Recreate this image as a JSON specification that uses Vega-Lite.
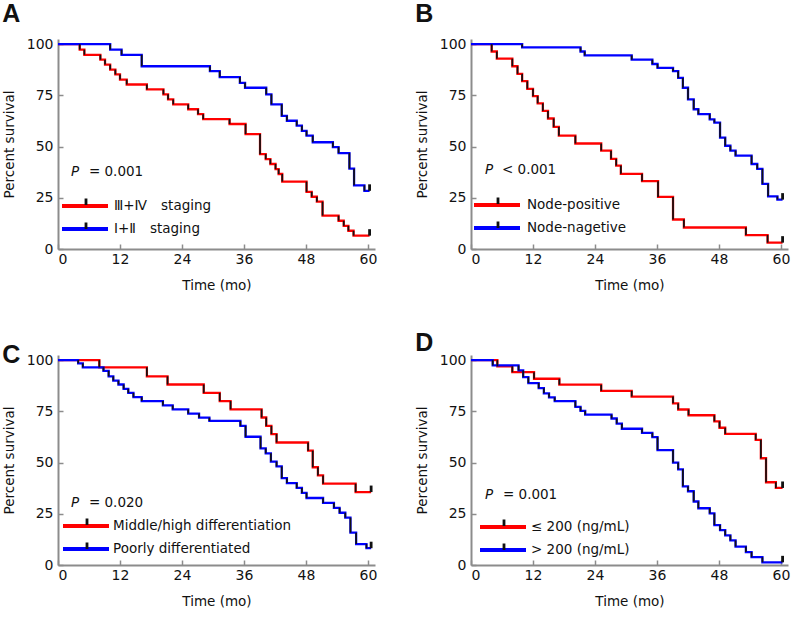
{
  "$schema": "https://vega.github.io/schema/vega-lite/v6.json",
  "padding": {"left": 2, "top": 2, "right": 2, "bottom": 2},
  "background": "white",
  "config": {
    "view": {"stroke": null},
    "axis": {"domainColor": "#8c8c8c", "domainWidth": 2, "tickColor": "#8c8c8c", "tickWidth": 1.5, "tickSize": -5, "grid": false,
      "labelFont": "DejaVu Sans", "labelFontSize": 14, "labelColor": "#111", "titleFont": "DejaVu Sans", "titleFontSize": 13.5, "titleFontWeight": "normal", "titleColor": "#111"},
    "axisX": {"labelPadding": 8, "titlePadding": 12},
    "axisY": {"labelPadding": 10, "titlePadding": 10},
    "title": {"anchor": "start", "frame": "bounds", "font": "Liberation Sans Narrow, Liberation Sans", "fontSize": 25, "fontWeight": "bold", "color": "#111"},
    "legend": {"orient": "none", "padding": 0, "labelFont": "DejaVu Sans", "labelFontSize": 13.5, "labelColor": "#111", "rowPadding": 3, "labelLimit": 400}
  },
  "datasets": {
    "A": [
      {"g":"Ⅲ+Ⅳ　staging","t":0,"s":100},{"g":"Ⅲ+Ⅳ　staging","t":4.2,"s":97.3},{"g":"Ⅲ+Ⅳ　staging","t":5.1,"s":94.8},{"g":"Ⅲ+Ⅳ　staging","t":8.2,"s":92.4},{"g":"Ⅲ+Ⅳ　staging","t":9.1,"s":90},{"g":"Ⅲ+Ⅳ　staging","t":10.1,"s":87.6},{"g":"Ⅲ+Ⅳ　staging","t":11.1,"s":85.2},{"g":"Ⅲ+Ⅳ　staging","t":12.0,"s":82.7},{"g":"Ⅲ+Ⅳ　staging","t":13.3,"s":80.3},{"g":"Ⅲ+Ⅳ　staging","t":17.2,"s":77.9},{"g":"Ⅲ+Ⅳ　staging","t":20.4,"s":75.5},{"g":"Ⅲ+Ⅳ　staging","t":21.3,"s":73},{"g":"Ⅲ+Ⅳ　staging","t":22.3,"s":70.6},{"g":"Ⅲ+Ⅳ　staging","t":25.2,"s":68.2},{"g":"Ⅲ+Ⅳ　staging","t":27.1,"s":65.8},{"g":"Ⅲ+Ⅳ　staging","t":28.1,"s":63.4},{"g":"Ⅲ+Ⅳ　staging","t":33.2,"s":61},{"g":"Ⅲ+Ⅳ　staging","t":36.3,"s":56.1},{"g":"Ⅲ+Ⅳ　staging","t":39.1,"s":46.3},{"g":"Ⅲ+Ⅳ　staging","t":40.2,"s":43.9},{"g":"Ⅲ+Ⅳ　staging","t":41.1,"s":41.5},{"g":"Ⅲ+Ⅳ　staging","t":42.1,"s":39},{"g":"Ⅲ+Ⅳ　staging","t":42.7,"s":36.6},{"g":"Ⅲ+Ⅳ　staging","t":43.4,"s":32.9},{"g":"Ⅲ+Ⅳ　staging","t":48.1,"s":27.9},{"g":"Ⅲ+Ⅳ　staging","t":49.1,"s":25.5},{"g":"Ⅲ+Ⅳ　staging","t":50.1,"s":23.1},{"g":"Ⅲ+Ⅳ　staging","t":51.2,"s":16.3},{"g":"Ⅲ+Ⅳ　staging","t":54.3,"s":13.8},{"g":"Ⅲ+Ⅳ　staging","t":55.3,"s":11.3},{"g":"Ⅲ+Ⅳ　staging","t":56.2,"s":8.9},{"g":"Ⅲ+Ⅳ　staging","t":57.2,"s":6.5},{"g":"Ⅲ+Ⅳ　staging","t":60.3,"s":6.5},
      {"g":"Ⅰ+Ⅱ　staging","t":0,"s":100},{"g":"Ⅰ+Ⅱ　staging","t":10.1,"s":97.3},{"g":"Ⅰ+Ⅱ　staging","t":12.3,"s":94.8},{"g":"Ⅰ+Ⅱ　staging","t":16.2,"s":89.2},{"g":"Ⅰ+Ⅱ　staging","t":29.4,"s":86.8},{"g":"Ⅰ+Ⅱ　staging","t":31.3,"s":83.9},{"g":"Ⅰ+Ⅱ　staging","t":35.2,"s":81.1},{"g":"Ⅰ+Ⅱ　staging","t":36.2,"s":78.7},{"g":"Ⅰ+Ⅱ　staging","t":40.3,"s":75.5},{"g":"Ⅰ+Ⅱ　staging","t":41.3,"s":70.6},{"g":"Ⅰ+Ⅱ　staging","t":43.3,"s":65},{"g":"Ⅰ+Ⅱ　staging","t":44.3,"s":62.6},{"g":"Ⅰ+Ⅱ　staging","t":46.2,"s":60.2},{"g":"Ⅰ+Ⅱ　staging","t":47.2,"s":57.7},{"g":"Ⅰ+Ⅱ　staging","t":48.1,"s":55.3},{"g":"Ⅰ+Ⅱ　staging","t":49.3,"s":52.1},{"g":"Ⅰ+Ⅱ　staging","t":53.2,"s":49.7},{"g":"Ⅰ+Ⅱ　staging","t":54.3,"s":46.8},{"g":"Ⅰ+Ⅱ　staging","t":56.4,"s":39.2},{"g":"Ⅰ+Ⅱ　staging","t":57.3,"s":31.1},{"g":"Ⅰ+Ⅱ　staging","t":59.3,"s":28.4},{"g":"Ⅰ+Ⅱ　staging","t":60.3,"s":28.4}
    ],
    "B": [
      {"g":"Node-positive","t":0,"s":100},{"g":"Node-positive","t":4.0,"s":96.4},{"g":"Node-positive","t":5.0,"s":92.9},{"g":"Node-positive","t":8.0,"s":89.2},{"g":"Node-positive","t":9.0,"s":85.5},{"g":"Node-positive","t":9.9,"s":81.9},{"g":"Node-positive","t":10.9,"s":78.2},{"g":"Node-positive","t":12.0,"s":74.6},{"g":"Node-positive","t":12.9,"s":71.1},{"g":"Node-positive","t":13.9,"s":67.4},{"g":"Node-positive","t":14.9,"s":63.7},{"g":"Node-positive","t":16.0,"s":59.6},{"g":"Node-positive","t":17.0,"s":55.3},{"g":"Node-positive","t":20.2,"s":51.5},{"g":"Node-positive","t":25.2,"s":48},{"g":"Node-positive","t":27.1,"s":44},{"g":"Node-positive","t":28.1,"s":40.7},{"g":"Node-positive","t":29.0,"s":36.7},{"g":"Node-positive","t":33.1,"s":33.1},{"g":"Node-positive","t":36.2,"s":25.4},{"g":"Node-positive","t":39.1,"s":14.4},{"g":"Node-positive","t":41.2,"s":10.5},{"g":"Node-positive","t":53.2,"s":6.8},{"g":"Node-positive","t":57.4,"s":3.1},{"g":"Node-positive","t":60.3,"s":3.1},
      {"g":"Node-nagetive","t":0,"s":100},{"g":"Node-nagetive","t":9.9,"s":98.4},{"g":"Node-nagetive","t":21.2,"s":96.4},{"g":"Node-nagetive","t":22.0,"s":94.5},{"g":"Node-nagetive","t":31.1,"s":92.4},{"g":"Node-nagetive","t":35.1,"s":90.3},{"g":"Node-nagetive","t":36.1,"s":88.4},{"g":"Node-nagetive","t":39.1,"s":86.8},{"g":"Node-nagetive","t":40.1,"s":83.5},{"g":"Node-nagetive","t":41.0,"s":78.7},{"g":"Node-nagetive","t":42.0,"s":73},{"g":"Node-nagetive","t":43.1,"s":68.2},{"g":"Node-nagetive","t":44.0,"s":65.8},{"g":"Node-nagetive","t":46.2,"s":63.3},{"g":"Node-nagetive","t":47.1,"s":61.7},{"g":"Node-nagetive","t":48.2,"s":54.4},{"g":"Node-nagetive","t":49.2,"s":50.4},{"g":"Node-nagetive","t":50.2,"s":48},{"g":"Node-nagetive","t":51.2,"s":45.6},{"g":"Node-nagetive","t":54.3,"s":41.5},{"g":"Node-nagetive","t":55.4,"s":39.1},{"g":"Node-nagetive","t":56.4,"s":31.8},{"g":"Node-nagetive","t":57.5,"s":25.7},{"g":"Node-nagetive","t":59.3,"s":24.1},{"g":"Node-nagetive","t":60.3,"s":24.1}
    ],
    "C": [
      {"g":"Middle/high differentiation","t":0,"s":100},{"g":"Middle/high differentiation","t":8.0,"s":96.5},{"g":"Middle/high differentiation","t":17.2,"s":92.1},{"g":"Middle/high differentiation","t":21.2,"s":88.1},{"g":"Middle/high differentiation","t":28.2,"s":84},{"g":"Middle/high differentiation","t":31.3,"s":80},{"g":"Middle/high differentiation","t":33.4,"s":76},{"g":"Middle/high differentiation","t":39.4,"s":72},{"g":"Middle/high differentiation","t":40.3,"s":67.9},{"g":"Middle/high differentiation","t":41.3,"s":63.9},{"g":"Middle/high differentiation","t":42.3,"s":59.8},{"g":"Middle/high differentiation","t":48.4,"s":55.8},{"g":"Middle/high differentiation","t":49.3,"s":47.7},{"g":"Middle/high differentiation","t":50.3,"s":43.7},{"g":"Middle/high differentiation","t":51.3,"s":39.7},{"g":"Middle/high differentiation","t":57.6,"s":35.6},{"g":"Middle/high differentiation","t":60.6,"s":35.6},
      {"g":"Poorly differentiated","t":0,"s":100},{"g":"Poorly differentiated","t":3.9,"s":98.4},{"g":"Poorly differentiated","t":4.8,"s":96.5},{"g":"Poorly differentiated","t":8.8,"s":94.8},{"g":"Poorly differentiated","t":9.8,"s":92.1},{"g":"Poorly differentiated","t":10.7,"s":90},{"g":"Poorly differentiated","t":11.7,"s":88.1},{"g":"Poorly differentiated","t":12.7,"s":86},{"g":"Poorly differentiated","t":13.6,"s":84},{"g":"Poorly differentiated","t":14.6,"s":81.9},{"g":"Poorly differentiated","t":16.2,"s":80},{"g":"Poorly differentiated","t":20.3,"s":77.9},{"g":"Poorly differentiated","t":22.2,"s":76},{"g":"Poorly differentiated","t":25.2,"s":73.9},{"g":"Poorly differentiated","t":27.3,"s":71.9},{"g":"Poorly differentiated","t":29.3,"s":70.3},{"g":"Poorly differentiated","t":35.3,"s":67.9},{"g":"Poorly differentiated","t":36.3,"s":62.6},{"g":"Poorly differentiated","t":39.2,"s":56.9},{"g":"Poorly differentiated","t":40.2,"s":54.5},{"g":"Poorly differentiated","t":41.2,"s":50.5},{"g":"Poorly differentiated","t":42.3,"s":48.1},{"g":"Poorly differentiated","t":43.3,"s":42.4},{"g":"Poorly differentiated","t":44.3,"s":40},{"g":"Poorly differentiated","t":46.2,"s":37.6},{"g":"Poorly differentiated","t":47.2,"s":35.2},{"g":"Poorly differentiated","t":48.1,"s":32.7},{"g":"Poorly differentiated","t":51.3,"s":30.3},{"g":"Poorly differentiated","t":53.4,"s":27.9},{"g":"Poorly differentiated","t":54.5,"s":25.5},{"g":"Poorly differentiated","t":55.6,"s":23.1},{"g":"Poorly differentiated","t":56.6,"s":15.8},{"g":"Poorly differentiated","t":57.7,"s":10.2},{"g":"Poorly differentiated","t":59.7,"s":8.2},{"g":"Poorly differentiated","t":60.6,"s":8.2}
    ],
    "D": [
      {"g":"≤ 200 (ng/mL)","t":0,"s":100},{"g":"≤ 200 (ng/mL)","t":5.1,"s":97},{"g":"≤ 200 (ng/mL)","t":8.0,"s":94.1},{"g":"≤ 200 (ng/mL)","t":12.2,"s":90.9},{"g":"≤ 200 (ng/mL)","t":17.1,"s":88},{"g":"≤ 200 (ng/mL)","t":25.2,"s":85},{"g":"≤ 200 (ng/mL)","t":31.1,"s":82.2},{"g":"≤ 200 (ng/mL)","t":39.1,"s":78.9},{"g":"≤ 200 (ng/mL)","t":40.1,"s":75.9},{"g":"≤ 200 (ng/mL)","t":42.1,"s":73.1},{"g":"≤ 200 (ng/mL)","t":47.1,"s":70.1},{"g":"≤ 200 (ng/mL)","t":48.1,"s":67},{"g":"≤ 200 (ng/mL)","t":49.2,"s":64},{"g":"≤ 200 (ng/mL)","t":55.1,"s":61.1},{"g":"≤ 200 (ng/mL)","t":56.1,"s":52.1},{"g":"≤ 200 (ng/mL)","t":57.1,"s":40.4},{"g":"≤ 200 (ng/mL)","t":59.0,"s":37.6},{"g":"≤ 200 (ng/mL)","t":60.3,"s":37.6},
      {"g":"> 200 (ng/mL)","t":0,"s":100},{"g":"> 200 (ng/mL)","t":4.2,"s":97.4},{"g":"> 200 (ng/mL)","t":9.2,"s":95},{"g":"> 200 (ng/mL)","t":10.1,"s":91.7},{"g":"> 200 (ng/mL)","t":11.1,"s":88.8},{"g":"> 200 (ng/mL)","t":13.1,"s":86.3},{"g":"> 200 (ng/mL)","t":14.1,"s":83.8},{"g":"> 200 (ng/mL)","t":15.1,"s":81.8},{"g":"> 200 (ng/mL)","t":16.2,"s":80},{"g":"> 200 (ng/mL)","t":20.2,"s":77.2},{"g":"> 200 (ng/mL)","t":21.2,"s":75.2},{"g":"> 200 (ng/mL)","t":22.1,"s":73.4},{"g":"> 200 (ng/mL)","t":27.2,"s":71.5},{"g":"> 200 (ng/mL)","t":28.2,"s":69},{"g":"> 200 (ng/mL)","t":29.2,"s":66.5},{"g":"> 200 (ng/mL)","t":33.1,"s":64.5},{"g":"> 200 (ng/mL)","t":35.1,"s":62.4},{"g":"> 200 (ng/mL)","t":36.1,"s":56.1},{"g":"> 200 (ng/mL)","t":39.1,"s":50},{"g":"> 200 (ng/mL)","t":40.1,"s":46.7},{"g":"> 200 (ng/mL)","t":41.0,"s":38.4},{"g":"> 200 (ng/mL)","t":42.0,"s":36},{"g":"> 200 (ng/mL)","t":43.1,"s":31},{"g":"> 200 (ng/mL)","t":44.0,"s":27.7},{"g":"> 200 (ng/mL)","t":46.2,"s":25.2},{"g":"> 200 (ng/mL)","t":47.1,"s":19.5},{"g":"> 200 (ng/mL)","t":48.2,"s":17},{"g":"> 200 (ng/mL)","t":49.2,"s":14.5},{"g":"> 200 (ng/mL)","t":50.2,"s":12},{"g":"> 200 (ng/mL)","t":51.2,"s":9},{"g":"> 200 (ng/mL)","t":53.2,"s":6.3},{"g":"> 200 (ng/mL)","t":54.3,"s":3.8},{"g":"> 200 (ng/mL)","t":56.4,"s":1.3},{"g":"> 200 (ng/mL)","t":60.3,"s":1.3}
    ]
  },
  "columns": 2,
  "spacing": {"row": 106, "column": 96},
  "bounds": "flush",
  "resolve": {"scale": {"color": "independent", "shape": "independent", "x": "independent", "y": "independent"}, "legend": {"color": "independent", "shape": "independent"}},
  "concat": [
    {
      "title": {"text": "A", "offset": 10},
      "width": 317, "height": 210,
      "data": {"name": "A"},
      "layer": [
        {"mark": {"type": "line", "interpolate": "step-after", "strokeWidth": 2.3},
         "encoding": {
           "x": {"field": "t", "type": "quantitative", "scale": {"domain": [0, 61.35], "nice": false}, "axis": {"values": [0,12,24,36,48,60], "title": "Time (mo)"}},
           "y": {"field": "s", "type": "quantitative", "scale": {"domain": [0, 102.5], "nice": false}, "axis": {"values": [0,25,50,75,100], "title": "Percent survival"}},
           "color": {"field": "g", "type": "nominal", "scale": {"domain": ["Ⅲ+Ⅳ　staging", "Ⅰ+Ⅱ　staging"], "range": ["#ff0000", "#0000ff"]},
             "legend": {"title": null, "legendX": 2, "legendY": 155, "symbolType": "M-1,0H3.6", "symbolSize": 400, "symbolStrokeWidth": 4, "labelOffset": 30}}
         }},
        {"transform": [{"window": [{"op": "lag", "field": "s", "as": "p"}], "groupby": ["g"], "sort": [{"field": "t"}]}, {"filter": "datum.p != null"}],
         "mark": {"type": "rule", "color": "#111", "strokeWidth": 1.7},
         "encoding": {"x": {"field": "t", "type": "quantitative"}, "y": {"field": "p", "type": "quantitative"}, "y2": {"field": "s"}}},
        {"transform": [{"joinaggregate": [{"op": "max", "field": "t", "as": "mt"}], "groupby": ["g"]}, {"filter": "datum.t === datum.mt"}, {"calculate": "datum.g", "as": "g2"}],
         "mark": {"type": "point", "size": 400, "color": "#111", "filled": true, "opacity": 1, "strokeWidth": 0},
         "encoding": {"x": {"field": "t", "type": "quantitative"}, "y": {"field": "s", "type": "quantitative"},
           "shape": {"field": "g2", "type": "nominal", "scale": {"range": ["M-0.14,-0.65H0.14V0H-0.14Z", "M-0.14,-0.65H0.14V0H-0.14Z"]},
             "legend": {"title": null, "legendX": 18, "legendY": 156, "rowPadding": 7, "symbolSize": 400, "labelOffset": 30, "labelOpacity": 0, "symbolFillColor": "#111", "symbolStrokeColor": "#111", "symbolStrokeWidth": 0}}}},
        {"data": {"values": [{"txt": "P"}]}, "mark": {"type": "text", "align": "left", "baseline": "middle", "font": "DejaVu Sans", "fontSize": 13.5, "fontStyle": "italic", "color": "#111"},
         "encoding": {"x": {"datum": 2.5}, "y": {"datum": 37.6}, "text": {"field": "txt"}}},
        {"data": {"values": [{"txt": "= 0.001"}]}, "mark": {"type": "text", "align": "left", "baseline": "middle", "dx": 18, "font": "DejaVu Sans", "fontSize": 13.5, "color": "#111"},
         "encoding": {"x": {"datum": 2.5}, "y": {"datum": 37.6}, "text": {"field": "txt"}}}
      ]
    },
    {
      "title": {"text": "B", "offset": 10},
      "width": 317, "height": 210,
      "data": {"name": "B"},
      "layer": [
        {"mark": {"type": "line", "interpolate": "step-after", "strokeWidth": 2.3},
         "encoding": {
           "x": {"field": "t", "type": "quantitative", "scale": {"domain": [0, 61.35], "nice": false}, "axis": {"values": [0,12,24,36,48,60], "title": "Time (mo)"}},
           "y": {"field": "s", "type": "quantitative", "scale": {"domain": [0, 102.5], "nice": false}, "axis": {"values": [0,25,50,75,100], "title": "Percent survival"}},
           "color": {"field": "g", "type": "nominal", "scale": {"domain": ["Node-positive", "Node-nagetive"], "range": ["#ff0000", "#0000ff"]},
             "legend": {"title": null, "legendX": 1, "legendY": 154, "symbolType": "M-1,0H3.6", "symbolSize": 400, "symbolStrokeWidth": 4, "labelOffset": 31}}
         }},
        {"transform": [{"window": [{"op": "lag", "field": "s", "as": "p"}], "groupby": ["g"], "sort": [{"field": "t"}]}, {"filter": "datum.p != null"}],
         "mark": {"type": "rule", "color": "#111", "strokeWidth": 1.7},
         "encoding": {"x": {"field": "t", "type": "quantitative"}, "y": {"field": "p", "type": "quantitative"}, "y2": {"field": "s"}}},
        {"transform": [{"joinaggregate": [{"op": "max", "field": "t", "as": "mt"}], "groupby": ["g"]}, {"filter": "datum.t === datum.mt"}, {"calculate": "datum.g", "as": "g2"}],
         "mark": {"type": "point", "size": 400, "color": "#111", "filled": true, "opacity": 1, "strokeWidth": 0},
         "encoding": {"x": {"field": "t", "type": "quantitative"}, "y": {"field": "s", "type": "quantitative"},
           "shape": {"field": "g2", "type": "nominal", "scale": {"range": ["M-0.14,-0.65H0.14V0H-0.14Z", "M-0.14,-0.65H0.14V0H-0.14Z"]},
             "legend": {"title": null, "legendX": 17, "legendY": 155, "rowPadding": 7, "symbolSize": 400, "labelOffset": 31, "labelOpacity": 0, "symbolFillColor": "#111", "symbolStrokeColor": "#111", "symbolStrokeWidth": 0}}}},
        {"data": {"values": [{"txt": "P"}]}, "mark": {"type": "text", "align": "left", "baseline": "middle", "font": "DejaVu Sans", "fontSize": 13.5, "fontStyle": "italic", "color": "#111"},
         "encoding": {"x": {"datum": 2.7}, "y": {"datum": 38.5}, "text": {"field": "txt"}}},
        {"data": {"values": [{"txt": "< 0.001"}]}, "mark": {"type": "text", "align": "left", "baseline": "middle", "dx": 17, "font": "DejaVu Sans", "fontSize": 13.5, "color": "#111"},
         "encoding": {"x": {"datum": 2.7}, "y": {"datum": 38.5}, "text": {"field": "txt"}}}
      ]
    },
    {
      "title": {"text": "C", "offset": -15},
      "width": 317, "height": 210,
      "data": {"name": "C"},
      "layer": [
        {"mark": {"type": "line", "interpolate": "step-after", "strokeWidth": 2.3},
         "encoding": {
           "x": {"field": "t", "type": "quantitative", "scale": {"domain": [0, 61.35], "nice": false}, "axis": {"values": [0,12,24,36,48,60], "title": "Time (mo)"}},
           "y": {"field": "s", "type": "quantitative", "scale": {"domain": [0, 102.5], "nice": false}, "axis": {"values": [0,25,50,75,100], "title": "Percent survival"}},
           "color": {"field": "g", "type": "nominal", "scale": {"domain": ["Middle/high differentiation", "Poorly differentiated"], "range": ["#ff0000", "#0000ff"]},
             "legend": {"title": null, "legendX": 3, "legendY": 159, "symbolType": "M-1,0H3.6", "symbolSize": 400, "symbolStrokeWidth": 4, "labelOffset": 28}}
         }},
        {"transform": [{"window": [{"op": "lag", "field": "s", "as": "p"}], "groupby": ["g"], "sort": [{"field": "t"}]}, {"filter": "datum.p != null"}],
         "mark": {"type": "rule", "color": "#111", "strokeWidth": 1.7},
         "encoding": {"x": {"field": "t", "type": "quantitative"}, "y": {"field": "p", "type": "quantitative"}, "y2": {"field": "s"}}},
        {"transform": [{"joinaggregate": [{"op": "max", "field": "t", "as": "mt"}], "groupby": ["g"]}, {"filter": "datum.t === datum.mt"}, {"calculate": "datum.g", "as": "g2"}],
         "mark": {"type": "point", "size": 400, "color": "#111", "filled": true, "opacity": 1, "strokeWidth": 0},
         "encoding": {"x": {"field": "t", "type": "quantitative"}, "y": {"field": "s", "type": "quantitative"},
           "shape": {"field": "g2", "type": "nominal", "scale": {"range": ["M-0.14,-0.65H0.14V0H-0.14Z", "M-0.14,-0.65H0.14V0H-0.14Z"]},
             "legend": {"title": null, "legendX": 19, "legendY": 160, "rowPadding": 7, "symbolSize": 400, "labelOffset": 28, "labelOpacity": 0, "symbolFillColor": "#111", "symbolStrokeColor": "#111", "symbolStrokeWidth": 0}}}},
        {"data": {"values": [{"txt": "P"}]}, "mark": {"type": "text", "align": "left", "baseline": "middle", "font": "DejaVu Sans", "fontSize": 13.5, "fontStyle": "italic", "color": "#111"},
         "encoding": {"x": {"datum": 2.5}, "y": {"datum": 30.2}, "text": {"field": "txt"}}},
        {"data": {"values": [{"txt": "= 0.020"}]}, "mark": {"type": "text", "align": "left", "baseline": "middle", "dx": 18, "font": "DejaVu Sans", "fontSize": 13.5, "color": "#111"},
         "encoding": {"x": {"datum": 2.5}, "y": {"datum": 30.2}, "text": {"field": "txt"}}}
      ]
    },
    {
      "title": {"text": "D", "offset": -3},
      "width": 317, "height": 210,
      "data": {"name": "D"},
      "layer": [
        {"mark": {"type": "line", "interpolate": "step-after", "strokeWidth": 2.3},
         "encoding": {
           "x": {"field": "t", "type": "quantitative", "scale": {"domain": [0, 61.35], "nice": false}, "axis": {"values": [0,12,24,36,48,60], "title": "Time (mo)"}},
           "y": {"field": "s", "type": "quantitative", "scale": {"domain": [0, 102.5], "nice": false}, "axis": {"values": [0,25,50,75,100], "title": "Percent survival"}},
           "color": {"field": "g", "type": "nominal", "scale": {"domain": ["≤ 200 (ng/mL)", "> 200 (ng/mL)"], "range": ["#ff0000", "#0000ff"]},
             "legend": {"title": null, "legendX": 7, "legendY": 160, "symbolType": "M-1,0H3.6", "symbolSize": 400, "symbolStrokeWidth": 4, "labelOffset": 29}}
         }},
        {"transform": [{"window": [{"op": "lag", "field": "s", "as": "p"}], "groupby": ["g"], "sort": [{"field": "t"}]}, {"filter": "datum.p != null"}],
         "mark": {"type": "rule", "color": "#111", "strokeWidth": 1.7},
         "encoding": {"x": {"field": "t", "type": "quantitative"}, "y": {"field": "p", "type": "quantitative"}, "y2": {"field": "s"}}},
        {"transform": [{"joinaggregate": [{"op": "max", "field": "t", "as": "mt"}], "groupby": ["g"]}, {"filter": "datum.t === datum.mt"}, {"calculate": "datum.g", "as": "g2"}],
         "mark": {"type": "point", "size": 400, "color": "#111", "filled": true, "opacity": 1, "strokeWidth": 0},
         "encoding": {"x": {"field": "t", "type": "quantitative"}, "y": {"field": "s", "type": "quantitative"},
           "shape": {"field": "g2", "type": "nominal", "scale": {"range": ["M-0.14,-0.65H0.14V0H-0.14Z", "M-0.14,-0.65H0.14V0H-0.14Z"]},
             "legend": {"title": null, "legendX": 23, "legendY": 161, "rowPadding": 7, "symbolSize": 400, "labelOffset": 29, "labelOpacity": 0, "symbolFillColor": "#111", "symbolStrokeColor": "#111", "symbolStrokeWidth": 0}}}},
        {"data": {"values": [{"txt": "P"}]}, "mark": {"type": "text", "align": "left", "baseline": "middle", "font": "DejaVu Sans", "fontSize": 13.5, "fontStyle": "italic", "color": "#111"},
         "encoding": {"x": {"datum": 2.7}, "y": {"datum": 34.1}, "text": {"field": "txt"}}},
        {"data": {"values": [{"txt": "= 0.001"}]}, "mark": {"type": "text", "align": "left", "baseline": "middle", "dx": 18, "font": "DejaVu Sans", "fontSize": 13.5, "color": "#111"},
         "encoding": {"x": {"datum": 2.7}, "y": {"datum": 34.1}, "text": {"field": "txt"}}}
      ]
    }
  ]
}
